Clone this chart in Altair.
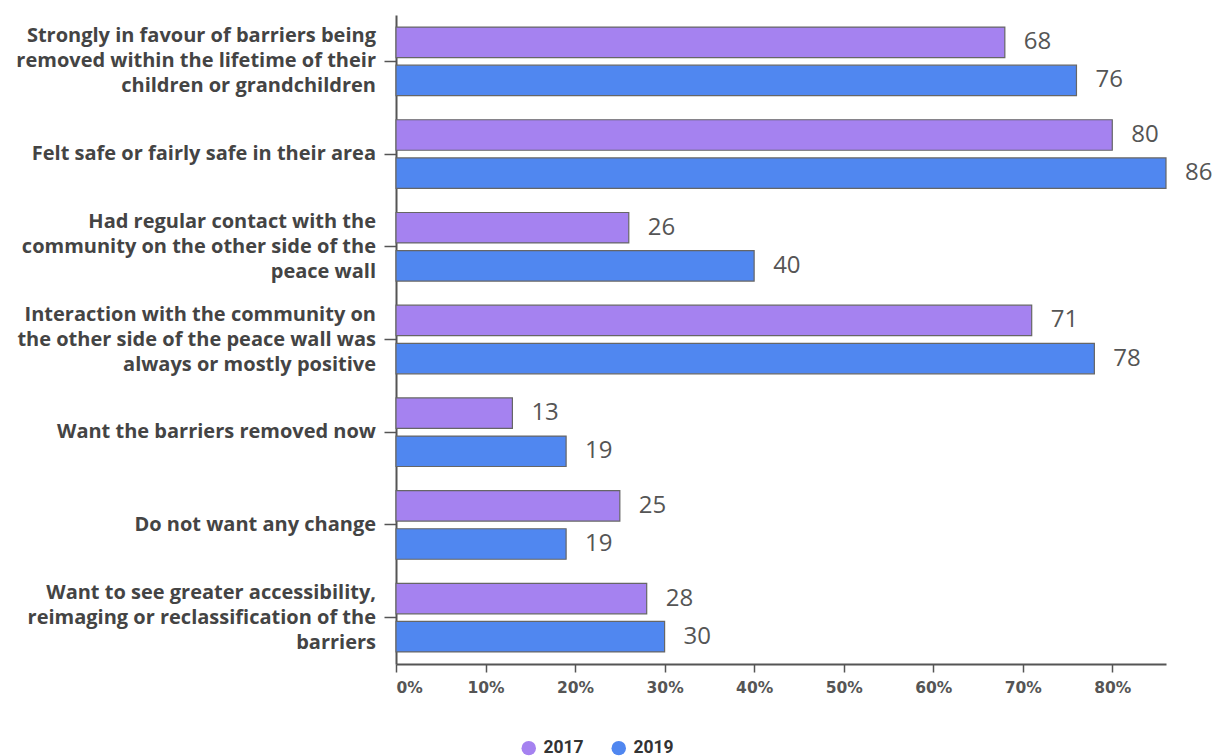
import altair as alt
import pandas as pd

categories = [
    "Strongly in favour of barriers being|removed within the lifetime of their|children or grandchildren",
    "Felt safe or fairly safe in their area",
    "Had regular contact with the|community on the other side of the|peace wall",
    "Interaction with the community on|the other side of the peace wall was|always or mostly positive",
    "Want the barriers removed now",
    "Do not want any change",
    "Want to see greater accessibility,|reimaging or reclassification of the|barriers",
]
values_2017 = [68, 80, 26, 71, 13, 25, 28]
values_2019 = [76, 86, 40, 78, 19, 19, 30]
years = ["2017", "2019"]
colors = ["#a582f0", "#5087f0"]
x_ticks = [0, 10, 20, 30, 40, 50, 60, 70, 80]

rows = []
for c, a, b in zip(categories, values_2017, values_2019):
    rows.append({"category": c, "year": years[0], "value": a})
    rows.append({"category": c, "year": years[1], "value": b})
df = pd.DataFrame(rows)

# category label lines, positioned relative to the centre of the category band
label_rows = []
for c in categories:
    parts = c.split("|")
    n = len(parts)
    for i, p in enumerate(parts):
        pos = i - (n - 1) / 2  # -1, 0, 1
        label_rows.append({"category": c, "line": p, "pos": pos})
labels_df = pd.DataFrame(label_rows)

y_enc = alt.Y(
    "category:N",
    sort=categories,
    scale=alt.Scale(paddingInner=0.26, paddingOuter=0.13),
    axis=alt.Axis(
        title=None,
        labels=False,
        tickSize=12,
        tickColor="#555555",
        tickWidth=1.5,
        domainColor="#555555",
        domainWidth=2,
    ),
)
yoff = alt.YOffset("year:N", sort=years, scale=alt.Scale(paddingInner=0.2, paddingOuter=0))
x_enc = alt.X(
    "value:Q",
    scale=alt.Scale(domain=[0, 86], nice=False),
    axis=alt.Axis(
        title=None,
        values=x_ticks,
        labelExpr="datum.value + '%'",
        labelFlush=True,
        labelFont="DejaVu Sans",
        labelFontWeight="bold",
        labelFontSize=15.5,
        labelColor="#555555",
        labelPadding=8,
        tickSize=8,
        tickColor="#555555",
        tickWidth=1.5,
        domainColor="#555555",
        domainWidth=2,
        grid=False,
    ),
)
color_enc = alt.Color(
    "year:N",
    sort=years,
    scale=alt.Scale(domain=years, range=colors),
    legend=alt.Legend(
        title=None,
        orient="none",
        legendX=124,
        legendY=724,
        direction="horizontal",
        symbolType="circle",
        symbolSize=210,
        symbolStrokeWidth=0,
        labelFont="Roboto",
        labelFontWeight="bold",
        labelFontSize=17.5,
        labelColor="#333333",
        columnPadding=26,
        labelOffset=6,
    ),
)

bars = alt.Chart(df).mark_bar(stroke="#666666", strokeWidth=1.2).encode(
    y=y_enc, yOffset=yoff, x=x_enc, color=color_enc
)
texts = alt.Chart(df).mark_text(
    align="left", baseline="middle", dx=19, fontSize=24, font="Open Sans", color="#555555"
).encode(
    y=alt.Y("category:N", sort=categories),
    yOffset=alt.YOffset("year:N", sort=years),
    x="value:Q",
    text="value:Q",
)

line_layers = []
for pos, dy in [(-1, -25), (0, 0), (1, 25)]:
    line_layers.append(
        alt.Chart(labels_df)
        .transform_filter(f"datum.pos == {pos}")
        .mark_text(
            align="right",
            baseline="middle",
            dy=dy,
            font="Open Sans",
            fontWeight="bold",
            fontSize=20,
            color="#444444",
        )
        .encode(
            y=alt.Y("category:N", sort=categories),
            x=alt.value(-20),
            text="line:N",
        )
    )

chart = (
    alt.layer(bars, texts, *line_layers)
    .properties(
        width=770,
        height=649,
        autosize=alt.AutoSizeParams(type="none"),
        padding={"left": 396, "top": 15, "right": 54, "bottom": 92},
    )
    .configure_view(stroke=None)
)
chart.save("out.html", embed_options={"renderer": "svg", "actions": False})
